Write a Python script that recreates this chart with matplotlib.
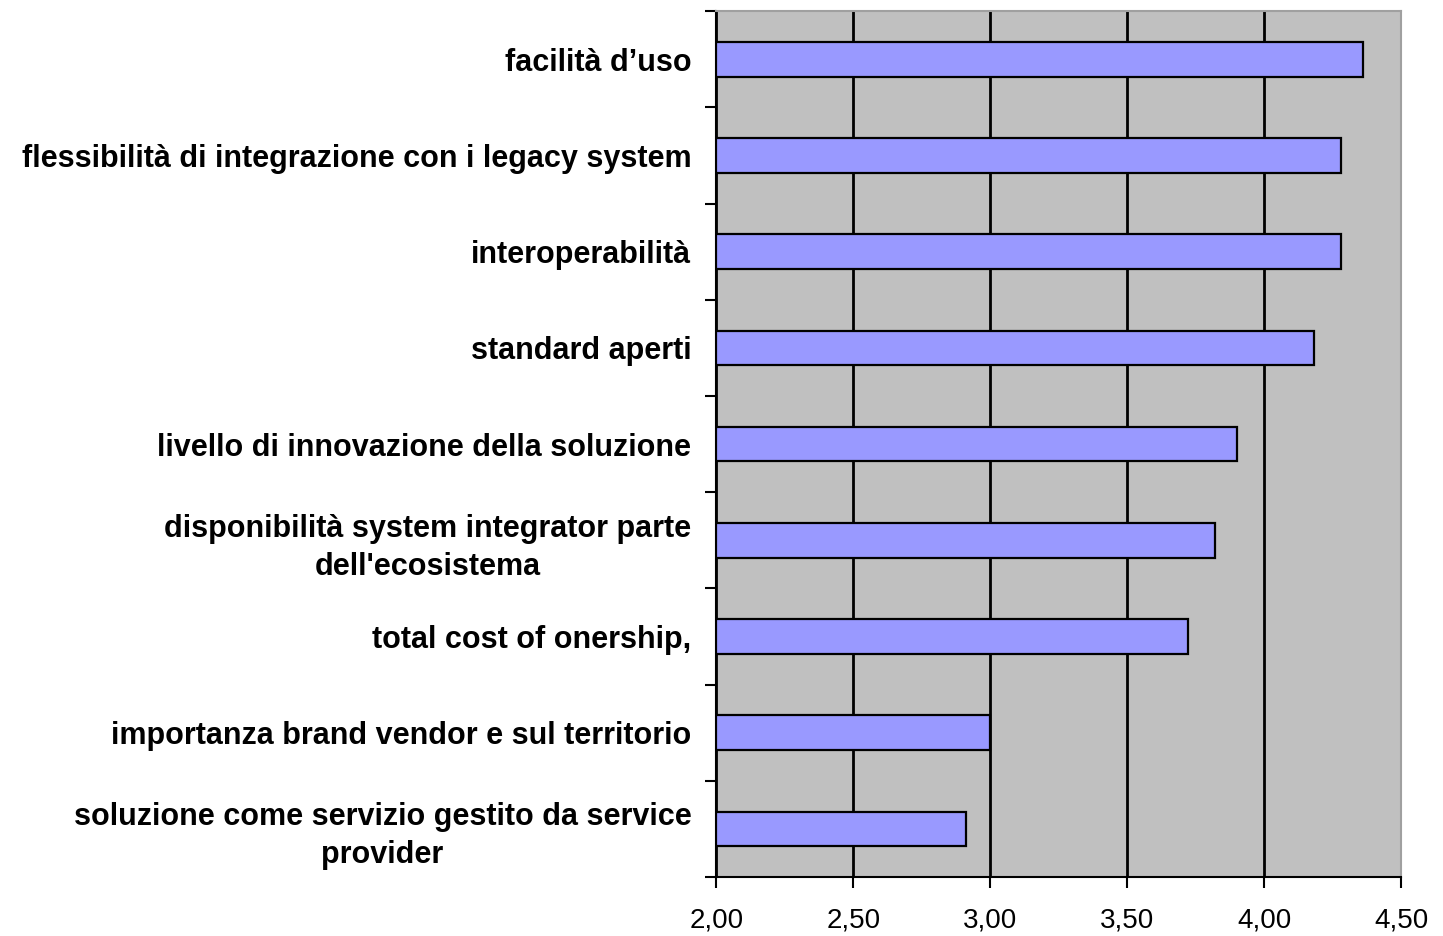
import numpy as np
import matplotlib.pyplot as plt
from matplotlib.ticker import FuncFormatter

# categories from top to bottom as in the picture
categorie = [
    "facilità d’uso",
    "flessibilità di integrazione con i legacy system",
    "interoperabilità",
    "standard aperti",
    "livello di innovazione della soluzione",
    "disponibilità system integrator parte\ndell'ecosistema",
    "total cost of onership,",
    "importanza brand vendor e sul territorio",
    "soluzione come servizio gestito da service\nprovider",
]
valori = [4.36, 4.28, 4.28, 4.18, 3.90, 3.82, 3.72, 3.00, 2.91]
x_ticks = [2.0, 2.5, 3.0, 3.5, 4.0, 4.5]

plt.rcParams['font.family'] = ['Liberation Sans', 'DejaVu Sans']

fig = plt.figure(figsize=(14.43, 9.36), dpi=100)
ax = fig.add_axes([0.4965, 0.063, 0.4745, 0.925])
ax.set_facecolor('#C0C0C0')

n = len(categorie)
y = np.arange(n)
ax.barh(y, np.array(valori) - 2.0, left=2.0, height=0.36,
        color='#9999FF', edgecolor='black', linewidth=1.6, zorder=3)

ax.set_xlim(2.0, 4.5)
ax.set_ylim(n - 0.5, -0.5)
ax.set_xticks(x_ticks)
ax.xaxis.set_major_formatter(FuncFormatter(lambda v, p: f"{v:.2f}".replace('.', ',')))
ax.grid(axis='x', color='black', linewidth=2, zorder=1)

ax.set_yticks(y)
ax.set_yticklabels(categorie, fontweight='bold', fontsize=22, ha='right',
                   multialignment='center', linespacing=1.35)
ax.set_yticks(np.arange(n + 1) - 0.5, minor=True)
ax.tick_params(axis='y', which='major', length=0, pad=18)
ax.tick_params(axis='y', which='minor', length=8, width=1.5, direction='out')
ax.tick_params(axis='x', length=8, width=1.5, direction='out', labelsize=20, pad=14)

for s in ['left', 'bottom']:
    ax.spines[s].set_color('black')
    ax.spines[s].set_linewidth(1.5)
for s in ['top', 'right']:
    ax.spines[s].set_color('#A0A0A0')
    ax.spines[s].set_linewidth(1.5)

fig.savefig('out.png', dpi=100)
